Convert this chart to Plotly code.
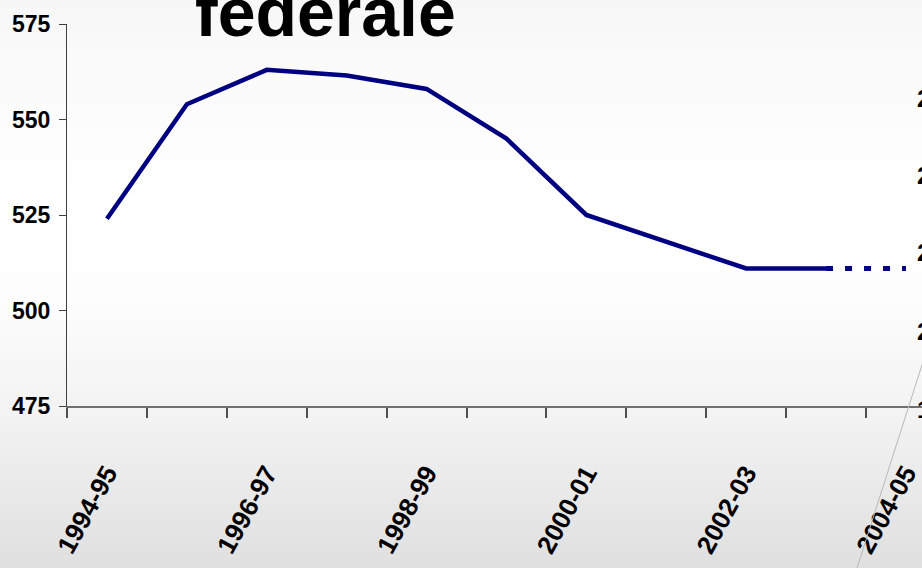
import plotly.graph_objects as go

# ---- data ----
categories = ["1994-95", "1995-96", "1996-97", "1997-98", "1998-99", "1999-00",
              "2000-01", "2001-02", "2002-03", "2003-04", "2004-05"]
actual_values = [524, 554, 563, 561.5, 558, 545, 525, 518, 511, 511]
projection_categories = ["2003-04", "2004-05"]
projection_values = [511, 511]
y_ticks = [475, 500, 525, 550, 575]
title_text = "federale"
right_axis_fragments = ["2", "2", "2", "2", "1"]

# ---- geometry helpers (pixel -> paper) ----
W, H = 922, 568
L, R, T, B = 67, 0, 24, 162
PW, PH = W - L - R, H - T - B


def px(x):
    return (x - L) / PW


def py(y):
    return (H - B - y) / PH


idx = {c: i for i, c in enumerate(categories)}

fig = go.Figure()
fig.add_trace(go.Scatter(
    x=[idx[c] for c in categories[:len(actual_values)]], y=actual_values,
    mode="lines", line=dict(color="#000080", width=4.5), hoverinfo="skip",
    showlegend=False))
fig.add_trace(go.Scatter(
    x=[idx[c] for c in projection_categories], y=projection_values,
    mode="lines", line=dict(color="#000080", width=5, dash="7px,12px"),
    hoverinfo="skip", showlegend=False))

# background gradient bands
def bg_color(y):
    stops = [(0, 247), (60, 250), (200, 255), (300, 253), (420, 242), (568, 224)]
    for (y0, c0), (y1, c1) in zip(stops[:-1], stops[1:]):
        if y0 <= y <= y1:
            c = c0 + (c1 - c0) * (y - y0) / (y1 - y0)
            return int(round(c))
    return stops[-1][1]

shapes = []
step = 8
for yy in range(0, H, step):
    g = bg_color(yy + step / 2)
    shapes.append(dict(type="rect", xref="paper", yref="paper",
                       x0=px(0), x1=px(W + 5), y0=py(yy + step + 0.5), y1=py(yy),
                       fillcolor=f"rgb({g},{g},{g})", line=dict(width=0),
                       layer="below"))
shapes.append(dict(type="line", xref="paper", yref="paper",
                   x0=px(929), y0=py(343), x1=px(857), y1=py(568),
                   line=dict(color="#b8b8b8", width=1), layer="above"))

annotations = [dict(text=title_text, xref="paper", yref="paper",
                    x=px(193), y=py(52), xanchor="left", yanchor="bottom",
                    showarrow=False,
                    font=dict(family="Arial, Liberation Sans, sans-serif",
                              size=68, color="#000000", weight="bold"))]
bold_font = "Arial, Liberation Sans, sans-serif"
for t, yy in zip(right_axis_fragments, [98, 175, 253, 331, 409]):
    annotations.append(dict(text=t, xref="paper", yref="paper", x=px(915),
                            y=py(yy), xanchor="left", yanchor="middle",
                            showarrow=False,
                            font=dict(family=bold_font, size=24,
                                      color="#000000", weight="bold")))

fig.update_layout(
    width=W, height=H,
    margin=dict(l=L, r=R, t=T, b=B, pad=0),
    paper_bgcolor="#f4f4f4",
    plot_bgcolor="rgba(0,0,0,0)",
    shapes=shapes,
    annotations=annotations,
    xaxis=dict(
        range=[-0.5, -0.5 + PW / 79.9],
        tickmode="array",
        tickvals=[idx[c] for c in categories[::2]],
        ticktext=categories[::2],
        ticks="", tickangle=-61,
        tickfont=dict(family=bold_font, size=26, color="#000000", weight="bold"),
        ticklabelstandoff=40,
        ticklabeloverflow="allow",
        showline=True, linecolor="#707070", linewidth=1.5,
        showgrid=False, zeroline=False, automargin=False,
        minor=dict(tick0=-0.5, dtick=1, ticks="outside", ticklen=10,
                   tickcolor="#505050", tickwidth=1.5, showgrid=False),
    ),
    yaxis=dict(
        range=[475, 575],
        tickvals=y_ticks,
        ticks="outside", ticklen=7, tickcolor="#404040", tickwidth=1,
        tickfont=dict(family=bold_font, size=23, color="#000000", weight="bold"),
        ticklabelstandoff=4,
        showline=True, linecolor="#404040", linewidth=1,
        showgrid=False, zeroline=False, automargin=False,
    ),
)

fig.write_html(
    "out.html",
    config={"displayModeBar": False},
    post_script="document.body.style.margin='0';document.body.style.overflow='hidden';",
)
